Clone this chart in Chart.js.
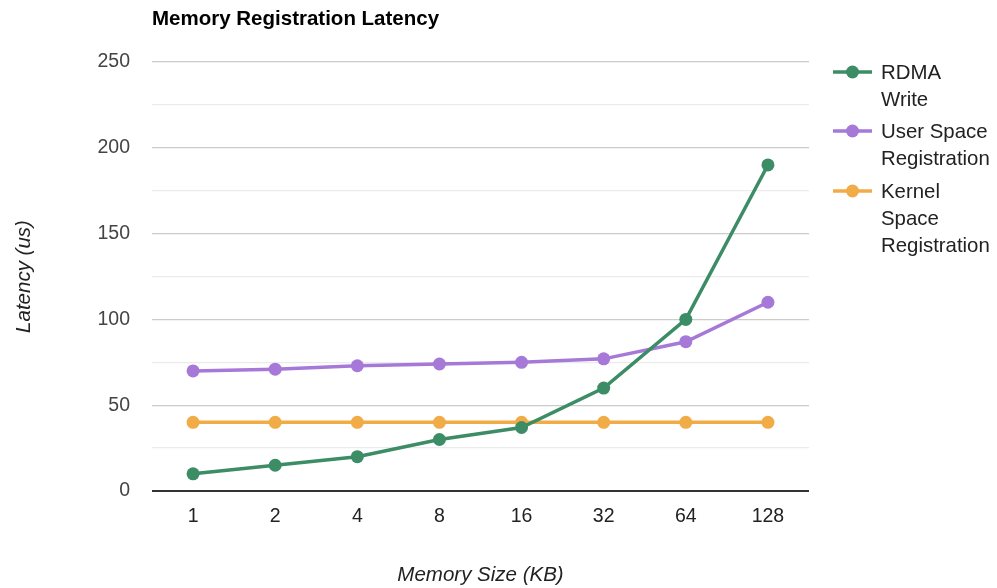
<!DOCTYPE html>
<html>
<head>
<meta charset="utf-8">
<script src="https://cdn.jsdelivr.net/npm/chart.js@4.4.1/dist/chart.umd.min.js"></script>
<style>
  html, body { margin: 0; padding: 0; background: #fff; }
  #wrap { width: 997px; height: 588px; position: relative; }
</style>
</head>
<body>
<div id="wrap"><canvas id="c"></canvas></div>
<script>
// Memory sizes (KB) on the category axis
const sizes = ['1', '2', '4', '8', '16', '32', '64', '128'];

// Latency in microseconds for each series
const rdmaWrite = [10, 15, 20, 30, 37, 60, 100, 190];
const userSpaceReg = [70, 71, 73, 74, 75, 77, 87, 110];
const kernelSpaceReg = [40, 40, 40, 40, 40, 40, 40, 40];

// Legend text, wrapped the way the legend shows it
const seriesNames = ['RDMA Write', 'User Space Registration', 'Kernel Space Registration'];
const legendLines = [['RDMA', 'Write'], ['User Space', 'Registration'], ['Kernel', 'Space', 'Registration']];

const yTicks = [0, 50, 100, 150, 200, 250];

const FONT = 'Arial, "Liberation Sans", Helvetica, sans-serif';
const colors = ['#3c8c66', '#a678d8', '#f1ac47'];

function series(label, data, color) {
  return {
    label, data,
    borderColor: color,
    backgroundColor: color,
    pointBackgroundColor: color,
    pointBorderColor: color,
    borderWidth: 3.5,
    pointRadius: 6.5,
    pointHoverRadius: 6.5,
    pointBorderWidth: 0,
    tension: 0,
    fill: false
  };
}

// Title and wrapped legend drawn on the canvas
const decorations = {
  id: 'decorations',
  afterDraw(chart) {
    const ctx = chart.ctx;
    ctx.save();
    ctx.fillStyle = '#000';
    ctx.font = 'bold 20.5px ' + FONT;
    ctx.textBaseline = 'middle';
    ctx.textAlign = 'left';
    ctx.fillText('Memory Registration Latency', chart.chartArea.left, 19);

    const tops = [72, 131, 191];
    ctx.font = '20.4px ' + FONT;
    chart.data.datasets.forEach((ds, i) => {
      const y = tops[i];
      ctx.strokeStyle = ds.borderColor;
      ctx.lineWidth = 3.5;
      ctx.beginPath();
      ctx.moveTo(833, y);
      ctx.lineTo(872, y);
      ctx.stroke();
      ctx.fillStyle = ds.borderColor;
      ctx.beginPath();
      ctx.arc(852.5, y, 6.5, 0, Math.PI * 2);
      ctx.fill();
      ctx.fillStyle = '#222';
      legendLines[i].forEach((line, j) => {
        ctx.fillText(line, 881, y + 1 + j * 27);
      });
    });
    ctx.restore();
  }
};

new Chart(document.getElementById('c'), {
  type: 'line',
  data: {
    labels: sizes,
    datasets: [
      series(seriesNames[0], rdmaWrite, colors[0]),
      series(seriesNames[1], userSpaceReg, colors[1]),
      series(seriesNames[2], kernelSpaceReg, colors[2])
    ]
  },
  options: {
    responsive: true,
    maintainAspectRatio: false,
    animation: false,
    layout: { padding: { top: 62, right: 188, bottom: 0, left: 0 } },
    plugins: {
      legend: { display: false },
      title: { display: false },
      tooltip: { enabled: false }
    },
    scales: {
      x: {
        type: 'category',
        offset: true,
        grid: { display: false },
        border: { display: false },
        ticks: {
          color: '#222',
          font: { family: FONT, size: 19.5 },
          padding: 6,
          maxRotation: 0
        },
        title: {
          display: true,
          text: 'Memory Size (KB)',
          color: '#222',
          font: { family: FONT, size: 20.5, style: 'italic' },
          padding: { top: 0, bottom: 0 }
        },
        afterFit(scale) { scale.height = 97; }
      },
      y: {
        min: 0,
        max: 250,
        grid: {
          drawTicks: false,
          color(ctx) {
            const v = ctx.tick.value;
            if (v === 0) return '#333333';
            return yTicks.includes(v) ? '#cccccc' : '#ebebeb';
          },
          lineWidth(ctx) { return ctx.tick.value === 0 ? 2 : 1.3; }
        },
        border: { display: false },
        ticks: {
          stepSize: 25,
          color: '#444',
          font: { family: FONT, size: 19.5 },
          padding: 22,
          callback(v) { return yTicks.includes(v) ? String(v) : ''; }
        },
        title: {
          display: true,
          text: 'Latency (us)',
          color: '#222',
          font: { family: FONT, size: 20.5, style: 'italic' },
          padding: { top: 12, bottom: 0 }
        },
        afterFit(scale) { scale.width = 152; }
      }
    }
  },
  plugins: [decorations]
});
</script>
</body>
</html>
